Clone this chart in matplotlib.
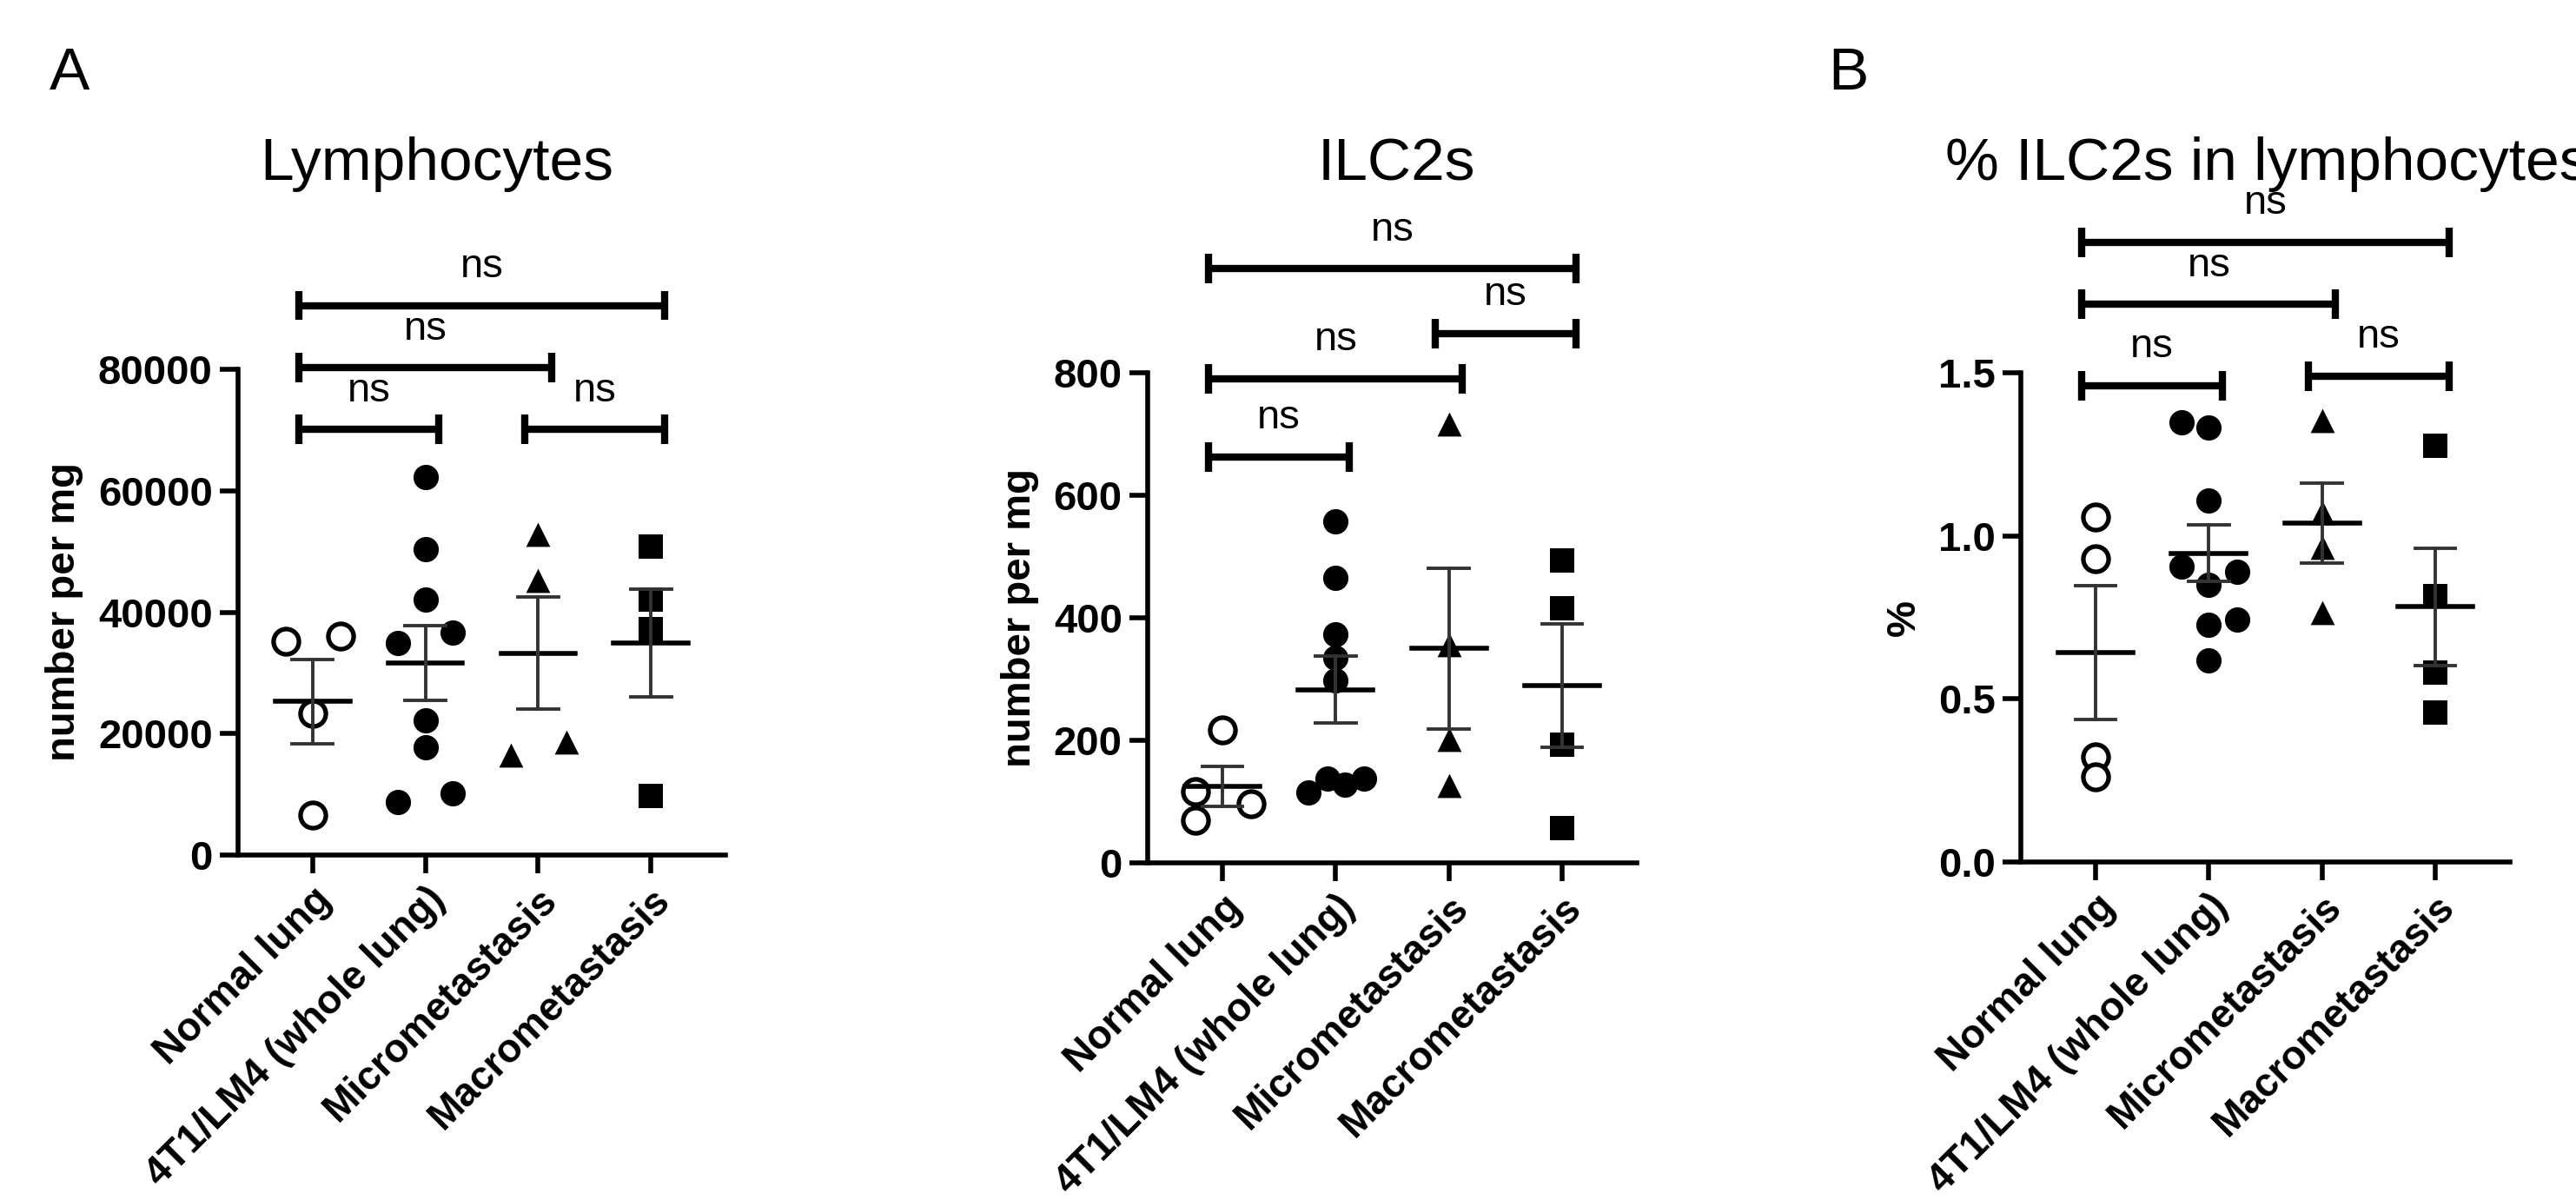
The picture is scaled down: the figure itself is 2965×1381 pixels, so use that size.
import numpy as np
import matplotlib
matplotlib.use("Agg")
import matplotlib.pyplot as plt

plt.rcParams['font.family'] = ['Liberation Sans', 'DejaVu Sans']

categories = ["Normal lung", "4T1/LM4 (whole lung)", "Micrometastasis", "Macrometastasis"]

lymph_vals = [[35190, 36080, 23320, 6530],
              [62310, 50330, 42020, 34900, 36680, 22140, 17690, 8780, 10090],
              [52780, 45190, 16500, 18580],
              [50800, 42020, 37270, 9670]]
lymph_off = [[-0.24, 0.25, 0, 0], [0, 0, 0, -0.24, 0.24, 0, 0, -0.24, 0.24],
             [0, 0, -0.24, 0.25], [0, 0, 0, 0]]

ilc_vals = [[217, 116, 96, 69],
            [558, 465, 373, 335, 298, 115, 137, 128, 137],
            [717, 356, 202, 126],
            [493, 415, 193, 57]]
ilc_off = [[0, -0.24, 0.25, -0.24], [0, 0, 0, 0, 0, -0.24, -0.07, 0.08, 0.25],
           [0, 0, 0, 0], [0, 0, 0, 0]]

pct_vals = [[1.059, 0.930, 0.322, 0.261],
            [1.348, 1.331, 1.109, 0.907, 0.890, 0.849, 0.743, 0.727, 0.619],
            [1.353, 1.070, 0.965, 0.765],
            [1.276, 0.815, 0.582, 0.457]]
pct_off = [[0, 0, 0, 0], [-0.24, 0, 0, -0.24, 0.25, 0, 0.25, 0, 0],
           [0, 0, 0, 0], [0, 0, 0, 0]]

lymph_brackets = [(0, 3, 90500), (0, 2, 80250), (0, 1, 70120), (2, 3, 70120)]
ilc_brackets = [(0, 3, 970), (2, 3, 864), (0, 2, 790), (0, 1, 663)]
pct_brackets = [(0, 3, 1.90), (0, 2, 1.71), (0, 1, 1.46), (2, 3, 1.49)]

panels = [
    dict(title="Lymphocytes", vals=lymph_vals, off=lymph_off, br=lymph_brackets,
         ylim=80000, yticks=[0, 20000, 40000, 60000, 80000], fmt="{:.0f}", ylabel="number per mg",
         rect=[274, 425, 835, 984], tx=503),
    dict(title="ILC2s", vals=ilc_vals, off=ilc_off, br=ilc_brackets,
         ylim=800, yticks=[0, 200, 400, 600, 800], fmt="{:.0f}", ylabel="number per mg",
         rect=[1321, 429, 1884, 993], tx=1607),
    dict(title="% ILC2s in lymphocytes", vals=pct_vals, off=pct_off, br=pct_brackets,
         ylim=1.5, yticks=[0, 0.5, 1.0, 1.5], fmt="{:.1f}", ylabel="%",
         rect=[2326, 429, 2889, 992], tx=2610),
]

markers = [dict(marker='o', fc='white', ec='black', s=440, lw=3.8),
           dict(marker='o', fc='black', ec='black', s=440, lw=0),
           dict(marker='^', fc='black', ec='black', s=400, lw=0),
           dict(marker='s', fc='black', ec='black', s=380, lw=0)]

W, H = 2965, 1381
fig = plt.figure(figsize=(W / 100, H / 100), dpi=100)

for p in panels:
    l, t, r, b = p['rect']
    ax = fig.add_axes([l / W, 1 - b / H, (r - l) / W, (b - t) / H])
    for i, (vals, off) in enumerate(zip(p['vals'], p['off'])):
        v = np.array(vals)
        xs = i + np.array(off)
        m = markers[i]
        ax.scatter(xs, v, marker=m['marker'], s=m['s'], facecolors=m['fc'],
                   edgecolors=m['ec'], linewidths=m['lw'], zorder=3, clip_on=False)
        mean = v.mean()
        sem = v.std(ddof=1) / np.sqrt(len(v))
        ax.plot([i - 0.33, i + 0.33], [mean, mean], color='black', lw=4, zorder=4)
        ax.plot([i, i], [mean - sem, mean + sem], color='#333333', lw=2.8, zorder=4)
        for yv in (mean - sem, mean + sem):
            ax.plot([i - 0.18, i + 0.18], [yv, yv], color='#333333', lw=2.8, zorder=4)
    ym = p['ylim']
    cap = ym * 0.03
    for (a, c, yb) in p['br']:
        x0, x1 = a - 0.12, c + 0.12
        ax.plot([x0, x1], [yb, yb], color='black', lw=6, clip_on=False, solid_capstyle='butt')
        for xx in (x0, x1):
            ax.plot([xx, xx], [yb - cap, yb + cap], color='black', lw=6, clip_on=False,
                    solid_capstyle='butt')
        ax.text((x0 + x1) / 2, yb + ym * 0.04, "ns", ha='center', va='bottom',
                fontsize=34, clip_on=False)
    ax.set_xlim(-0.66, 3.66)
    ax.set_ylim(0, ym)
    ax.set_yticks(p['yticks'])
    ax.set_yticklabels([p['fmt'].format(v) for v in p['yticks']], fontsize=34, fontweight='bold')
    ax.set_xticks(range(4))
    ax.set_xticklabels(categories, rotation=45, ha='right', rotation_mode='anchor',
                       fontsize=33, fontweight='bold')
    ax.set_ylabel(p['ylabel'], fontsize=34, fontweight='bold', labelpad=12)
    for s in ('top', 'right'):
        ax.spines[s].set_visible(False)
    for s in ('left', 'bottom'):
        ax.spines[s].set_linewidth(4)
    ax.tick_params(width=4, length=15, pad=6)
    fig.text(p['tx'] / W, 1 - 189 / H, p['title'], ha='center', va='center', fontsize=50)

fig.text(80 / W, 1 - 85 / H, "A", ha='center', va='center', fontsize=50)
fig.text(2127 / W, 1 - 85 / H, "B", ha='center', va='center', fontsize=50)

fig.savefig("out.png", dpi=100, facecolor='white')
